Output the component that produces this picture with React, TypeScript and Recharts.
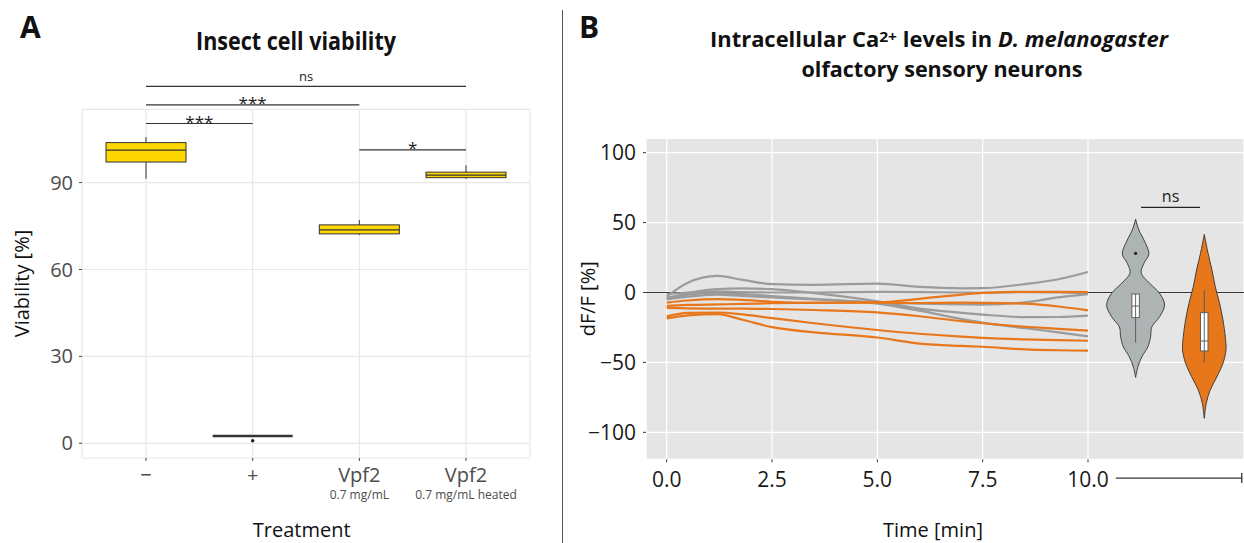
import React from 'react';
import {
  ComposedChart,
  Line,
  XAxis,
  YAxis,
  CartesianGrid,
  ReferenceLine,
  ReferenceArea,
  ReferenceDot,
} from 'recharts';

const FONT = '"Open Sans", "Noto Sans", "DejaVu Sans", sans-serif';

// ---------------- Panel A : insect cell viability ----------------
const treatmentLabels = ['−', '+', 'Vpf2', 'Vpf2'];
const treatmentSubLabels = ['', '', '0.7 mg/mL', '0.7 mg/mL heated'];
const viabilityWhiskerLow = [91.3, 2.5, 71.9, 91.3];
const viabilityQ1 = [97.1, 2.5, 72.3, 91.7];
const viabilityMedian = [101.2, 2.5, 73.7, 92.6];
const viabilityQ3 = [103.8, 2.5, 75.4, 93.6];
const viabilityWhiskerHigh = [105.7, 2.5, 77.1, 96.0];
const viabilityOutlierGroup = [2];
const viabilityOutlierValue = [0.9];
const viabilityTicks = [0, 30, 60, 90];
const bracketFrom = [1, 1, 1, 3];
const bracketTo = [4, 3, 2, 4];
const bracketHeight = [123.2, 116.8, 110.4, 101.3];
const bracketLabel = ['ns', '***', '***', '*'];

// ---------------- Panel B : Ca2+ imaging ----------------
const timePoints = [0, 0.5, 1.2, 1.8, 2.5, 3.5, 5, 6, 7, 7.5, 8.5, 9.3, 10];
const controlTrace1 = [-2.9, 7, 11.9, 9, 6, 5.5, 6.4, 4, 3, 3.1, 6, 9.5, 14.7];
const controlTrace2 = [-4.3, -0.5, 2.5, 2.9, 2.4, -0.5, -6.3, -11.5, -14.5, -15.8, -17.6, -17.5, -16.6];
const controlTrace3 = [-1.2, 0, 0.8, 0.3, 0, 0, 0.5, 0.3, 0, -0.3, 0.3, 0, -0.5];
const controlTrace4 = [-5, -3, -1.5, -2.5, -3.5, -5, -7, -8, -8.5, -8.6, -7, -3.5, -1.2];
const controlTrace5 = [-3.8, -1.5, -0.5, -1.2, -2.5, -4.5, -8, -13, -19, -21.5, -25.5, -28.5, -31.4];
const vpf2Trace1 = [-7.2, -5.7, -4.8, -5.3, -6.6, -7.5, -7.1, -4.5, -1.5, -0.3, 0.5, 0.4, 0.3];
const vpf2Trace2 = [-9.5, -8.9, -8.5, -8.2, -7.6, -7.2, -7.2, -7.5, -7.3, -7.4, -8, -10, -12.8];
const vpf2Trace3 = [-11, -11.3, -11.5, -11.5, -11.8, -12.5, -14.2, -17, -20.5, -22, -24.5, -26, -27.3];
const vpf2Trace4 = [-17.1, -14.5, -14.3, -15.7, -18.3, -22, -26.8, -29.5, -31.6, -32.4, -33.5, -34, -34.5];
const vpf2Trace5 = [-18.5, -16.3, -15.5, -19.5, -24.8, -28.5, -32.2, -36.5, -38.2, -38.8, -40.7, -41.3, -41.6];
const timeTicks = [0, 2.5, 5, 7.5, 10];
const dffTicks = [-100, -50, 0, 50, 100];

const violinCenters = [11.13, 12.76];
const controlDensityValues = [52.4, 44.7, 37.6, 28.0, 20.9, 13.7, 6.6, -0.6, -8.9, -17.3, -24.5, -31.6, -38.8, -45.9, -53.1, -60.7];
const controlDensityWidths = [0, 0.078, 0.197, 0.316, 0.197, 0.135, 0.332, 0.57, 0.688, 0.57, 0.387, 0.356, 0.292, 0.15, 0.055, 0];
const vpf2DensityValues = [41.6, 28.0, 16.1, 4.1, -7.7, -19.7, -31.6, -41.1, -50.6, -60.2, -69.7, -79.3, -90];
const vpf2DensityWidths = [0, 0.09, 0.183, 0.261, 0.363, 0.444, 0.498, 0.515, 0.444, 0.301, 0.142, 0.047, 0];
const violinBoxQ1 = [-18.0, -41.8];
const violinBoxMedian = [-9.7, -34.7];
const violinBoxQ3 = [-1.1, -14.4];
const violinWhiskerLow = [-35.9, -50.2];
const violinWhiskerHigh = [-1.1, 1.8];
const violinOutlierGroup = [0];
const violinOutlierValue = [28.0];
const violinBracketFrom = 11.26;
const violinBracketTo = 12.66;
const violinBracketHeight = 60.9;
const violinBracketLabel = 'ns';
const violinAxisFrom = 10.66;
const violinAxisTo = 13.65;
const violinAxisLevel = -132.7;
const violinAxisCapLow = -136.3;
const violinAxisCapHigh = -129.1;

const GRAY_LINE = '#9b9b9b';
const ORANGE = '#e8771c';
const GRAY_VIOLIN = '#aeb4b4';

const viabilityTable = treatmentLabels.map((name, i) => ({
  x: i + 1,
  name,
  median: viabilityMedian[i],
}));

const traceTable = timePoints.map((t, i) => ({
  t,
  c1: controlTrace1[i],
  c2: controlTrace2[i],
  c3: controlTrace3[i],
  c4: controlTrace4[i],
  c5: controlTrace5[i],
  v1: vpf2Trace1[i],
  v2: vpf2Trace2[i],
  v3: vpf2Trace3[i],
  v4: vpf2Trace4[i],
  v5: vpf2Trace5[i],
}));

function sidePath(pts: number[][], move: boolean) {
  let d = move ? `M${pts[0][0]},${pts[0][1]}` : `L${pts[0][0]},${pts[0][1]}`;
  for (let i = 0; i < pts.length - 1; i++) {
    const p0 = pts[i - 1] || pts[i];
    const p1 = pts[i];
    const p2 = pts[i + 1];
    const p3 = pts[i + 2] || p2;
    const c1x = p1[0] + (p2[0] - p0[0]) / 6;
    const c1y = p1[1] + (p2[1] - p0[1]) / 6;
    const c2x = p2[0] - (p3[0] - p1[0]) / 6;
    const c2y = p2[1] - (p3[1] - p1[1]) / 6;
    d += ` C${c1x},${c1y} ${c2x},${c2y} ${p2[0]},${p2[1]}`;
  }
  return d;
}

const makeViolinShape = (values: number[], widths: number[], fill: string) => (props: any) => {
  const { x, y, width, height } = props;
  const maxV = Math.max(...values);
  const minV = Math.min(...values);
  const maxW = Math.max(...widths);
  const cx = x + width / 2;
  const sx = width / 2 / maxW;
  const sy = height / (maxV - minV);
  const left = values.map((v, i) => [cx - widths[i] * sx, y + (maxV - v) * sy]);
  const right = values.map((v, i) => [cx + widths[i] * sx, y + (maxV - v) * sy]).reverse();
  const d = sidePath(left, true) + ' ' + sidePath(right, false) + ' Z';
  return <path d={d} fill={fill} stroke="#333" strokeWidth={0.9} />;
};

const makeBoxShape = (fill: string, stroke: string, sw: number) => (props: any) => (
  <rect x={props.x} y={props.y} width={props.width} height={props.height} fill={fill} stroke={stroke} strokeWidth={sw} />
);

const makeBracketLabel = (text: string, size: number, raise: number) => (props: any) => {
  const vb = props.viewBox || {};
  return (
    <text
      x={vb.x + vb.width / 2}
      y={vb.y - raise}
      textAnchor="middle"
      fontSize={size}
      fontFamily={FONT}
      fill="#222"
    >
      {text}
    </text>
  );
};

const TreatmentTick = (props: any) => {
  const { x, y, payload } = props;
  const i = Math.round(payload.value) - 1;
  return (
    <text x={x} y={y + 18.5} textAnchor="middle" fontFamily={FONT} fill="#4d4d4d" fontSize={20}>
      <tspan x={x}>{treatmentLabels[i]}</tspan>
      {treatmentSubLabels[i] ? (
        <tspan x={x} dy={17} fontSize={12}>
          {treatmentSubLabels[i]}
        </tspan>
      ) : null}
    </text>
  );
};

const TimeTick = (props: any) => {
  const { x, y, payload } = props;
  return (
    <text x={x} y={y + 22.4} textAnchor="middle" fontSize={21} fontFamily={FONT} fill="#1a1a1a">
      {Number(payload.value).toFixed(1)}
    </text>
  );
};

const minusFmt = (v: number) => (v < 0 ? '−' + Math.abs(v) : String(v));

function PanelA() {
  return (
    <ComposedChart
      width={560}
      height={543}
      data={viabilityTable}
      margin={{ top: 109.3, right: 30, bottom: 45, left: 22 }}
    >
      <CartesianGrid stroke="#e8e8e8" strokeWidth={1.2} />
      <XAxis
        type="number"
        dataKey="x"
        domain={[0.4, 4.6]}
        ticks={[1, 2, 3, 4]}
        allowDataOverflow
        axisLine={false}
        tickLine={{ stroke: '#444', strokeWidth: 1 }}
        tickSize={3}
        tickMargin={2}
        height={40}
        interval={0}
        tick={<TreatmentTick />}
      />
      <YAxis
        type="number"
        domain={[-5.08, 115.3]}
        ticks={viabilityTicks}
        allowDataOverflow
        axisLine={false}
        tickLine={{ stroke: '#444', strokeWidth: 1 }}
        tickSize={3}
        tickMargin={6}
        width={60}
        interval={0}
        tick={{ fontSize: 20, fontFamily: FONT, fill: '#4d4d4d' }}
      />
      {treatmentLabels.map((_, i) => (
        <ReferenceLine
          key={'wl' + i}
          segment={[{ x: i + 1, y: viabilityWhiskerLow[i] }, { x: i + 1, y: viabilityQ1[i] }]}
          stroke="#333"
          strokeWidth={1}
          ifOverflow="visible"
        />
      ))}
      {treatmentLabels.map((_, i) => (
        <ReferenceLine
          key={'wh' + i}
          segment={[{ x: i + 1, y: viabilityQ3[i] }, { x: i + 1, y: viabilityWhiskerHigh[i] }]}
          stroke="#333"
          strokeWidth={1}
          ifOverflow="visible"
        />
      ))}
      {treatmentLabels.map((_, i) => (
        <ReferenceArea
          key={'box' + i}
          x1={i + 1 - 0.375}
          x2={i + 1 + 0.375}
          y1={viabilityQ1[i]}
          y2={viabilityQ3[i]}
          ifOverflow="visible"
          shape={makeBoxShape('#FFD700', '#333', 1)}
        />
      ))}
      {treatmentLabels.map((_, i) => (
        <ReferenceLine
          key={'med' + i}
          segment={[
            { x: i + 1 - 0.375, y: viabilityMedian[i] },
            { x: i + 1 + 0.375, y: viabilityMedian[i] },
          ]}
          stroke="#333"
          strokeWidth={i === 1 ? 2.6 : 1.3}
          ifOverflow="visible"
        />
      ))}
      {viabilityOutlierGroup.map((g, i) => (
        <ReferenceDot
          key={'out' + i}
          x={g}
          y={viabilityOutlierValue[i]}
          r={1.8}
          fill="#222"
          stroke="none"
          ifOverflow="visible"
        />
      ))}
      {bracketLabel.map((lab, i) => (
        <ReferenceLine
          key={'br' + i}
          segment={[
            { x: bracketFrom[i], y: bracketHeight[i] },
            { x: bracketTo[i], y: bracketHeight[i] },
          ]}
          stroke="#333"
          strokeWidth={1.2}
          ifOverflow="visible"
          label={lab === 'ns' ? makeBracketLabel(lab, 13, 5.5) : makeBracketLabel(lab, 17, -4.5)}
        />
      ))}
    </ComposedChart>
  );
}

function PanelB() {
  const grays = ['c1', 'c2', 'c3', 'c4', 'c5'];
  const oranges = ['v1', 'v2', 'v3', 'v4', 'v5'];
  const dens = [
    { values: controlDensityValues, widths: controlDensityWidths, fill: GRAY_VIOLIN },
    { values: vpf2DensityValues, widths: vpf2DensityWidths, fill: ORANGE },
  ];
  const boxHalf = 0.088;
  return (
    <ComposedChart
      width={682}
      height={543}
      data={traceTable}
      margin={{ top: 138.3, right: 0, bottom: 43.7, left: 24 }}
    >
      <CartesianGrid stroke="#ffffff" strokeWidth={1.3} fill="#e5e5e5" fillOpacity={1} />
      <XAxis
        type="number"
        dataKey="t"
        domain={[-0.491, 13.703]}
        ticks={timeTicks}
        allowDataOverflow
        axisLine={false}
        tickLine={{ stroke: '#333', strokeWidth: 1 }}
        tickSize={3}
        tickMargin={2}
        height={40}
        interval={0}
        tick={<TimeTick />}
      />
      <YAxis
        type="number"
        domain={[-119.3, 110.3]}
        ticks={dffTicks}
        allowDataOverflow
        axisLine={false}
        tickLine={{ stroke: '#333', strokeWidth: 1 }}
        tickSize={3}
        tickMargin={7}
        width={60}
        interval={0}
        tickFormatter={minusFmt}
        tick={{ fontSize: 21, fontFamily: FONT, fill: '#1a1a1a' }}
      />
      <ReferenceArea y1={-0.4} y2={0.4} fill="#333" fillOpacity={1} ifOverflow="visible" />
      {grays.map((k) => (
        <Line
          key={k}
          dataKey={k}
          type="monotone"
          stroke={GRAY_LINE}
          strokeWidth={2.2}
          dot={false}
          activeDot={false}
          isAnimationActive={false}
        />
      ))}
      {oranges.map((k) => (
        <Line
          key={k}
          dataKey={k}
          type="monotone"
          stroke={ORANGE}
          strokeWidth={2.2}
          dot={false}
          activeDot={false}
          isAnimationActive={false}
        />
      ))}
      {dens.map((d, i) => {
        const maxW = Math.max(...d.widths);
        return (
          <ReferenceArea
            key={'vio' + i}
            x1={violinCenters[i] - maxW}
            x2={violinCenters[i] + maxW}
            y1={Math.min(...d.values)}
            y2={Math.max(...d.values)}
            ifOverflow="visible"
            shape={makeViolinShape(d.values, d.widths, d.fill)}
          />
        );
      })}
      {violinCenters.map((c, i) => (
        <ReferenceLine
          key={'vwl' + i}
          segment={[{ x: c, y: violinWhiskerLow[i] }, { x: c, y: violinWhiskerHigh[i] }]}
          stroke="#555"
          strokeWidth={0.9}
          ifOverflow="visible"
        />
      ))}
      {violinCenters.map((c, i) => (
        <ReferenceArea
          key={'vbox' + i}
          x1={c - boxHalf}
          x2={c + boxHalf}
          y1={violinBoxQ1[i]}
          y2={violinBoxQ3[i]}
          ifOverflow="visible"
          shape={makeBoxShape('#ffffff', '#555', 0.9)}
        />
      ))}
      {violinCenters.map((c, i) => (
        <ReferenceLine
          key={'vmed' + i}
          segment={[
            { x: c - boxHalf, y: violinBoxMedian[i] },
            { x: c + boxHalf, y: violinBoxMedian[i] },
          ]}
          stroke="#555"
          strokeWidth={0.9}
          ifOverflow="visible"
        />
      ))}
      {violinOutlierGroup.map((g, i) => (
        <ReferenceDot
          key={'vout' + i}
          x={violinCenters[g]}
          y={violinOutlierValue[i]}
          r={1.6}
          fill="#222"
          stroke="none"
          ifOverflow="visible"
        />
      ))}
      <ReferenceLine
        segment={[
          { x: violinBracketFrom, y: violinBracketHeight },
          { x: violinBracketTo, y: violinBracketHeight },
        ]}
        stroke="#222"
        strokeWidth={1.2}
        ifOverflow="visible"
        label={makeBracketLabel(violinBracketLabel, 16, 5)}
      />
      <ReferenceLine
        segment={[
          { x: violinAxisFrom, y: violinAxisLevel },
          { x: violinAxisTo, y: violinAxisLevel },
        ]}
        stroke="#333"
        strokeWidth={1.3}
        ifOverflow="visible"
      />
      <ReferenceLine
        segment={[
          { x: violinAxisTo, y: violinAxisCapLow },
          { x: violinAxisTo, y: violinAxisCapHigh },
        ]}
        stroke="#333"
        strokeWidth={1.3}
        ifOverflow="visible"
      />
    </ComposedChart>
  );
}

function Overlay() {
  return (
    <svg
      width={1244}
      height={543}
      style={{ position: 'absolute', left: 0, top: 0, pointerEvents: 'none' }}
    >
      <line x1={562.5} y1={10} x2={562.5} y2={543} stroke="#555" strokeWidth={1} />
      <text x={20} y={37.6} fontSize={30} fontWeight={700} fontFamily={FONT} fill="#111">
        A
      </text>
      <text x={579} y={37.6} fontSize={30} fontWeight={700} fontFamily={FONT} fill="#111">
        B
      </text>
      <text
        x={296}
        y={50}
        textAnchor="middle"
        fontSize={25}
        fontWeight={700}
        fontFamily={FONT}
        fill="#111"
        textLength={200}
        lengthAdjust="spacingAndGlyphs"
      >
        Insect cell viability
      </text>
      <text
        x={939}
        y={46.7}
        textAnchor="middle"
        fontSize={21}
        fontWeight={700}
        fontFamily={FONT}
        fill="#111"
        textLength={458}
        lengthAdjust="spacingAndGlyphs"
      >
        Intracellular Ca
        <tspan fontSize={15} dy={-5}>2+</tspan>
        <tspan dy={5}> levels in </tspan>
        <tspan fontStyle="italic">D. melanogaster</tspan>
      </text>
      <text
        x={942}
        y={76.5}
        textAnchor="middle"
        fontSize={21}
        fontWeight={700}
        fontFamily={FONT}
        fill="#111"
        textLength={281}
        lengthAdjust="spacingAndGlyphs"
      >
        olfactory sensory neurons
      </text>
      <text x={301.7} y={536.5} textAnchor="middle" fontSize={20} fontFamily={FONT} fill="#111">
        Treatment
      </text>
      <text x={933} y={536.5} textAnchor="middle" fontSize={20} fontFamily={FONT} fill="#111">
        Time [min]
      </text>
      <text
        transform="translate(29,283.5) rotate(-90)"
        textAnchor="middle"
        fontSize={20}
        fontFamily={FONT}
        fill="#111"
      >
        Viability [%]
      </text>
      <text
        transform="translate(595,298.8) rotate(-90)"
        textAnchor="middle"
        fontSize={20}
        fontFamily={FONT}
        fill="#111"
      >
        dF/F [%]
      </text>
    </svg>
  );
}

export default function App() {
  return (
    <div
      style={{
        position: 'absolute',
        left: 0,
        top: 0,
        width: 1244,
        height: 543,
        background: '#ffffff',
        overflow: 'hidden',
        fontFamily: FONT,
      }}
    >
      <div style={{ position: 'absolute', left: 0, top: 0 }}>
        <PanelA />
      </div>
      <div style={{ position: 'absolute', left: 562, top: 0 }}>
        <PanelB />
      </div>
      <Overlay />
    </div>
  );
}
